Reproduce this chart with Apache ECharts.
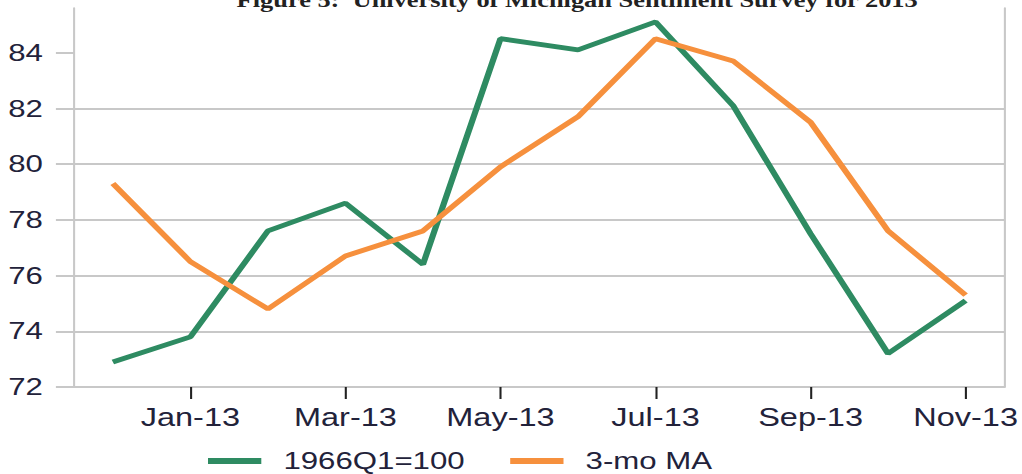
<!DOCTYPE html>
<html>
<head>
<meta charset="utf-8">
<script src="https://cdn.jsdelivr.net/npm/echarts@6/dist/echarts.min.js"></script>
<style>
    html, body { margin: 0; padding: 0; background: #fff; overflow: hidden; }
    /* the reference picture is stretched sideways, so draw narrow and widen */
    #chart {
        width: 786px;
        height: 474px;
        transform: scaleX(1.3);
        transform-origin: 0 0;
    }
</style>
</head>
<body>
<div id="chart"></div>
<script>
const months = ['Dec-12', 'Jan-13', 'Feb-13', 'Mar-13', 'Apr-13', 'May-13',
    'Jun-13', 'Jul-13', 'Aug-13', 'Sep-13', 'Oct-13', 'Nov-13'];
const sentiment = [72.9, 73.8, 77.6, 78.6, 76.4, 84.5, 84.1, 85.1, 82.1, 77.5, 73.2, 75.1];
const movingAvg = [79.3, 76.5, 74.8, 76.7, 77.6, 79.9, 81.7, 84.5, 83.7, 81.5, 77.6, 75.3];
const yTicks = [72, 74, 76, 78, 80, 82, 84];

const chart = echarts.init(document.getElementById('chart'), null, { renderer: 'svg' });
const gridColor = '#c8c8c8';
const textColor = '#22223a';

const option = {
    animation: false,
    title: {
        // only the bottom of the title shows in the reference, it is cut at the top
        text: 'Figure 5:  University of Michigan Sentiment Survey for 2013',
        left: 177,
        top: -15,
        textStyle: {
            fontFamily: 'Liberation Serif',
            fontWeight: 'bold',
            fontSize: 20.3,
            color: '#222'
        }
    },
    grid: {
        left: 57,
        right: 11.5,
        top: 8,
        bottom: 87
    },
    legend: {
        bottom: -4,
        left: 155,
        icon: 'rect',
        itemWidth: 41,
        itemHeight: 6,
        itemGap: 35,
        textStyle: {
            fontFamily: 'Liberation Sans',
            fontSize: 24,
            color: textColor,
            padding: [0, 0, 0, 12]
        },
        data: ['1966Q1=100', '3-mo MA']
    },
    xAxis: {
        type: 'category',
        data: months,
        boundaryGap: true,
        axisLine: { lineStyle: { color: gridColor, width: 2 } },
        axisTick: {
            show: true,
            alignWithLabel: true,
            interval: (i) => i % 2 === 1,
            length: 12,
            lineStyle: { color: '#222', width: 1.6 }
        },
        axisLabel: {
            interval: (i) => i % 2 === 1,
            margin: 18,
            fontFamily: 'Liberation Sans',
            fontSize: 25,
            color: textColor
        },
        splitLine: { show: false }
    },
    yAxis: [
        {
            type: 'value',
            min: 72,
            max: 85.6,
            interval: 2,
            axisLine: { show: true, lineStyle: { color: gridColor, width: 1.6 } },
            axisTick: {
                show: true,
                customValues: yTicks,
                length: 14,
                lineStyle: { color: gridColor, width: 2 }
            },
            axisLabel: {
                customValues: yTicks,
                margin: 24,
                fontFamily: 'Liberation Sans',
                fontSize: 24,
                color: textColor
            },
            splitLine: {
                showMaxLine: false,
                lineStyle: { color: gridColor, width: 2 }
            }
        },
        {
            type: 'value',
            position: 'right',
            min: 72,
            max: 85.6,
            interval: 2,
            axisLine: { show: true, lineStyle: { color: gridColor, width: 1.6 } },
            axisTick: { show: false },
            axisLabel: { show: false },
            splitLine: { show: false }
        }
    ],
    series: [
        {
            name: '1966Q1=100',
            type: 'line',
            data: sentiment,
            symbol: 'none',
            lineStyle: { color: '#2e8b62', width: 4.8 },
            itemStyle: { color: '#2e8b62' }
        },
        {
            name: '3-mo MA',
            type: 'line',
            data: movingAvg,
            symbol: 'none',
            lineStyle: { color: '#f6903d', width: 4.8 },
            itemStyle: { color: '#f6903d' }
        }
    ]
};

chart.setOption(option);
</script>
</body>
</html>
